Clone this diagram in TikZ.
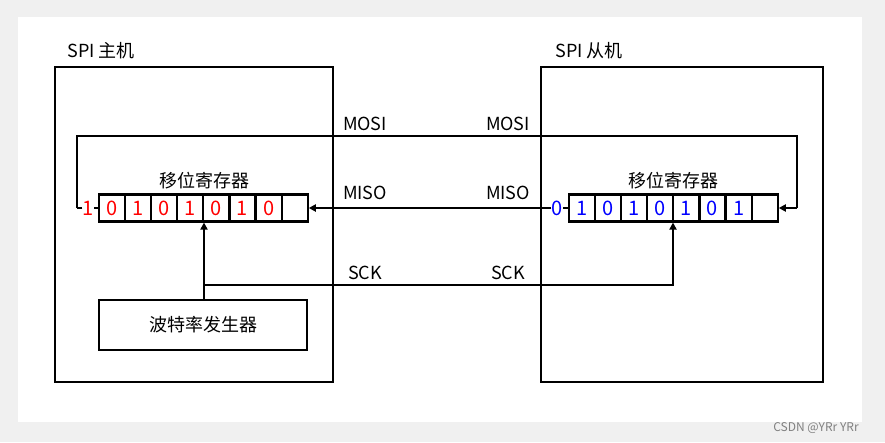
\documentclass[tikz,border=0pt]{standalone}
\usepackage{fontspec}
\setmainfont{Noto Sans CJK SC}
\usetikzlibrary{arrows.meta}
\begin{document}
\begin{tikzpicture}[x=1pt,y=-1pt,
  ln/.style={line width=2.1pt},
  arr/.style={ln,-{Triangle[length=7pt,width=7pt]}},
  lbl/.style={font=\fontsize{18}{20}\selectfont,inner sep=0},
  cell/.style={draw,line width=2.1pt,minimum width=26pt,minimum height=27pt,inner sep=0,font=\fontsize{20}{22}\selectfont},
  lc/.style={cell,text=red},
  rc/.style={cell,text=blue}]
\fill[gray!12] (0,0) rectangle (885,442);
\fill[white] (18,17) rectangle (862,422);
\useasboundingbox (0,0) rectangle (885,442);
\node[draw,ln,minimum width=278pt,minimum height=315pt,inner sep=0] (M) at (194,224.5) {};
\node[draw,ln,minimum width=282pt,minimum height=315pt,inner sep=0] (S) at (682,224.5) {};
\node[lbl] (tM) at (101,51) {SPI 主机};
\node[lbl] (tS) at (589,51) {SPI 从机};
\foreach \d [count=\i] in {0,1,0,1,0,1,0,{}} {
  \node[lc] (L\i) at ({99+13+(\i-1)*26.1},208) {\d};
}
\foreach \d [count=\i] in {1,0,1,0,1,0,1,{}} {
  \node[rc] (R\i) at ({569+13+(\i-1)*26.1},208) {\d};
}
\node[text=red,inner sep=0,font=\fontsize{20}{22}\selectfont] (Lb) at (88,208) {1};
\node[text=blue,inner sep=0,font=\fontsize{20}{22}\selectfont] (Rb) at (557,208) {0};
\node[lbl] (rlL) at (204,181) {移位寄存器};
\node[lbl] (rlR) at (673,181) {移位寄存器};
\node[draw,ln,minimum width=208pt,minimum height=50pt,inner sep=0,font=\fontsize{18}{20}\selectfont] (B) at (203,325) {波特率发生器};
\coordinate (m1) at (77,208);
\coordinate (m2) at (77,136);
\coordinate (m3) at (797,136);
\coordinate (m4) at (797,208);
\draw[ln] (L1.west) -- (Lb.east);
\draw[ln] (Lb.west) -- (m1);
\draw[ln] (m1) -- (m2) -- (m3) -- (m4);
\draw[arr] (m4) -- (R8.east);
\draw[ln] (R1.west) -- (Rb.east);
\draw[arr] (Rb.west) -- (L8.east);
\coordinate (s1) at (204,285);
\coordinate (s2) at (673,285);
\draw[arr] (B.north -| s1) -- (s1|-L4.south);
\draw[arr] (s1) -- (s2) -- (s2|-R4.south);
\node[lbl] (mo1) at (365,124) {MOSI};
\node[lbl] (mo2) at (508,124) {MOSI};
\node[lbl] (mi1) at (365,193) {MISO};
\node[lbl] (mi2) at (508,193) {MISO};
\node[lbl] (sc1) at (365,273) {SCK};
\node[lbl] (sc2) at (508,273) {SCK};
\node[lbl,text=gray,font=\fontsize{12}{13}\selectfont] (wm) at (816,428) {CSDN @YRr YRr};
\end{tikzpicture}
\end{document}
